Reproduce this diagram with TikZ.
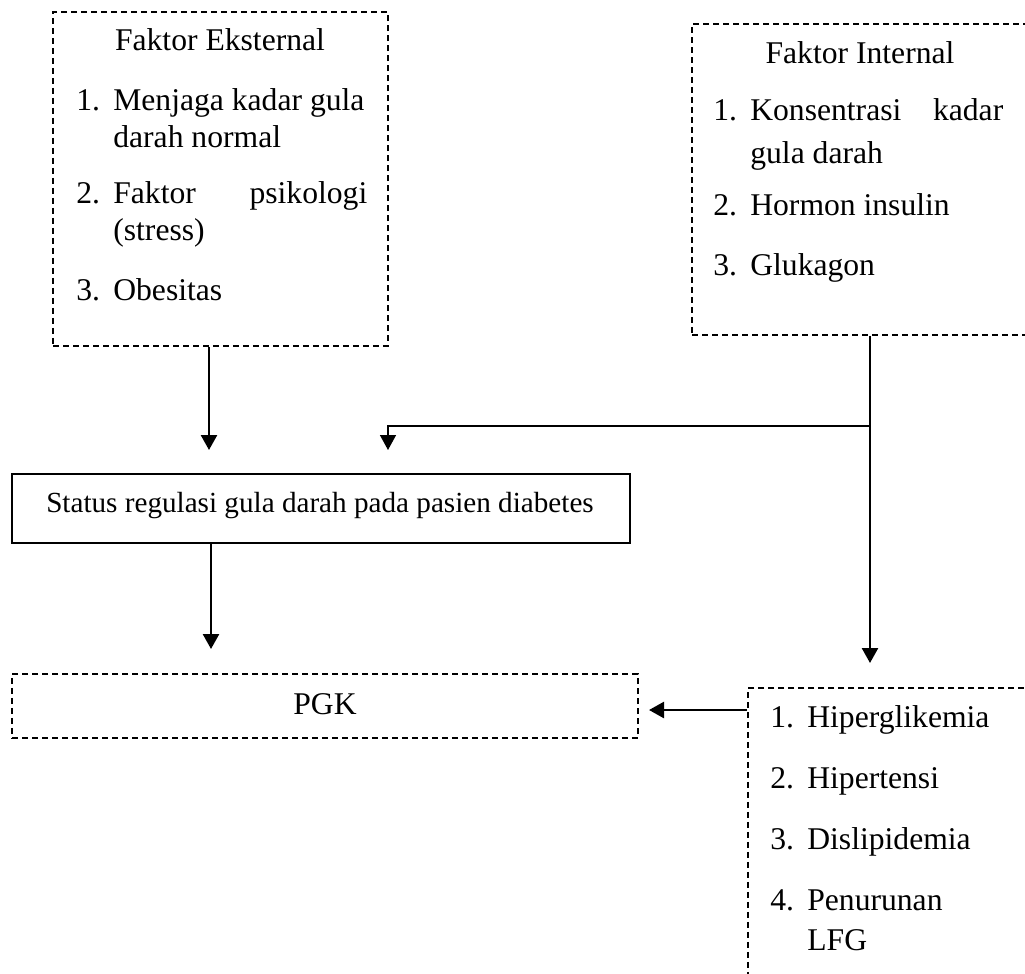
\documentclass[tikz,border=0pt]{standalone}
\usepackage{fontspec}
\setmainfont{Liberation Serif}
\usetikzlibrary{arrows.meta}

\tikzset{
  dbox/.style={draw,dash pattern=on 0.12cm off 0.08cm,line width=0.034cm},
  sbox/.style={draw,line width=0.045cm},
  txt/.style={anchor=base west,inner sep=0pt,font=\fontsize{18}{21}\selectfont},
  ctxt/.style={anchor=base,inner sep=0pt,font=\fontsize{18}{21}\selectfont},
  arr/.style={-{Triangle[length=0.3cm,width=0.32cm]},line width=0.05cm}
}
\newcommand{\nr}[1]{\makebox[0.74cm][l]{#1}}

\begin{document}
\begin{tikzpicture}[x=0.02cm,y=-0.02cm]
\clip (0,0) rectangle (1025,974);

\node(eks) at (220.5,179)[dbox,minimum width=6.7cm,minimum height=6.68cm]{};
\node(int) at (866,179.5)[dbox,minimum width=6.96cm,minimum height=6.22cm]{};
\node(stat) at (321,508.5)[sbox,minimum width=12.36cm,minimum height=1.38cm]{};
\node(pgk) at (325,706)[dbox,minimum width=12.52cm,minimum height=1.28cm]{};
\node(risk) at (894,839)[dbox,minimum width=5.84cm,minimum height=6.04cm]{};

\node(eksjudul) at (220,50)[ctxt]{Faktor Eksternal};
\node(eks1) at (76,110)[txt]{\nr{1.}Menjaga kadar gula};
\node(eks1b) at (113,147)[txt]{darah normal};
\node(eks2) at (76,203)[txt]{\nr{2.}\makebox[5.08cm][s]{Faktor psikologi}};
\node(eks2b) at (113,240)[txt]{(stress)};
\node(eks3) at (76,300)[txt]{\nr{3.}Obesitas};

\node(intjudul) at (860,63)[ctxt]{Faktor Internal};
\node(int1) at (713,120)[txt]{\nr{1.}\makebox[5.06cm][s]{Konsentrasi kadar}};
\node(int1b) at (750,163)[txt]{gula darah};
\node(int2) at (713,215)[txt]{\nr{2.}Hormon insulin};
\node(int3) at (713,275)[txt]{\nr{3.}Glukagon};

\node(stattxt) at (320,512)[ctxt,font=\fontsize{16.6}{20}\selectfont]{Status regulasi gula darah pada pasien diabetes};
\node(pgktxt) at (325,714)[ctxt]{PGK};

\node(risk1) at (770,727)[txt]{\nr{1.}Hiperglikemia};
\node(risk2) at (770,788)[txt]{\nr{2.}Hipertensi};
\node(risk3) at (770,849)[txt]{\nr{3.}Dislipidemia};
\node(risk4) at (770,910)[txt]{\nr{4.}Penurunan};
\node(risk4b) at (807,950)[txt]{LFG};

\coordinate(eksin) at (209,450);
\coordinate(intin) at (388,450);
\coordinate(cabang) at (870,426);
\coordinate(riskin) at (870,663);
\coordinate(statout) at (211,649);
\coordinate(pgkin) at (649,710);

\draw[arr] (eks.south -| eksin) -- (eksin);
\draw[arr] (int.south -| cabang) -- (riskin);
\draw[arr,line width=0.03cm] (cabang) -| (intin);
\draw[arr] (stat.south -| statout) -- (statout);
\draw[arr] (risk.west |- pgkin) -- (pgkin);

\end{tikzpicture}
\end{document}
